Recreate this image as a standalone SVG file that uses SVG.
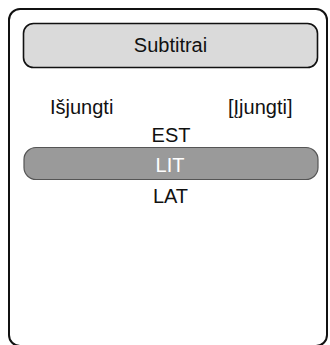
<svg xmlns="http://www.w3.org/2000/svg" width="330" height="345" viewBox="0 0 330 345">
<style>
text{font-family:"Liberation Sans",Arial,sans-serif;font-size:20px;fill:#111}
.c{text-anchor:middle}
</style>
<rect width="330" height="345" fill="#fff"/>
<g id="frame"><rect x="9" y="9" width="318" height="337" rx="11" fill="none" stroke="#111" stroke-width="2"/></g>
<g id="header"><rect x="23.5" y="23.5" width="294" height="44" rx="10" fill="#dadada" stroke="#111" stroke-width="1.6"/><text class="c" x="170.5" y="52">Subtitrai</text></g>
<g id="off"><text x="50" y="114">Išjungti</text></g>
<g id="on"><text x="228" y="114">[Įjungti]</text></g>
<g id="est"><text class="c" x="171" y="142">EST</text></g>
<g id="lit"><rect x="24" y="147.5" width="294" height="32" rx="12" fill="#9a9a9a" stroke="#555" stroke-width="1.2"/><text class="c" x="170" y="172" style="fill:#fff">LIT</text></g>
<g id="lat"><text class="c" x="170.5" y="203">LAT</text></g>
</svg>
